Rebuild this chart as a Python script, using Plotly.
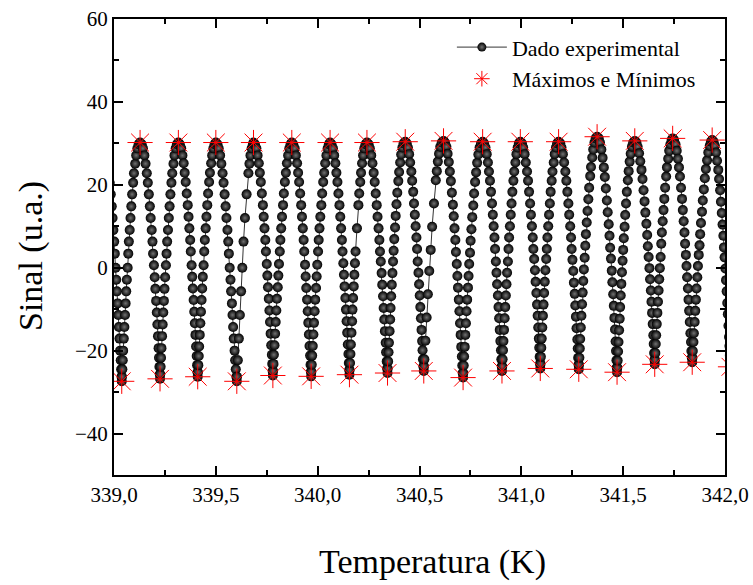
import plotly.graph_objects as go

# Experimental signal, one line per half-oscillation
temperatura = [
    338.943, 338.950, 338.957, 338.963, 338.969, 338.974, 338.979, 338.984, 338.989, 338.993, 338.997, 339.001, 339.004, 339.008, 339.011, 339.014, 339.018, 339.021, 339.024, 339.027, 339.030, 339.033, 339.035, 339.037, 339.038,
    339.039, 339.041, 339.043, 339.045, 339.048, 339.051, 339.054, 339.057, 339.060, 339.063, 339.067, 339.070, 339.073, 339.077, 339.081, 339.085, 339.089, 339.094, 339.098, 339.104, 339.109, 339.115, 339.121, 339.128,
    339.136, 339.142, 339.149, 339.155, 339.161, 339.166, 339.171, 339.176, 339.180, 339.185, 339.189, 339.192, 339.196, 339.200, 339.203, 339.207, 339.210, 339.213, 339.216, 339.219, 339.221, 339.223, 339.225, 339.226,
    339.227, 339.229, 339.231, 339.233, 339.236, 339.239, 339.242, 339.245, 339.248, 339.251, 339.255, 339.258, 339.261, 339.265, 339.269, 339.273, 339.277, 339.282, 339.286, 339.292, 339.297, 339.303, 339.309, 339.316,
    339.323, 339.330, 339.336, 339.342, 339.347, 339.352, 339.357, 339.362, 339.366, 339.370, 339.374, 339.377, 339.381, 339.384, 339.387, 339.391, 339.394, 339.397, 339.400, 339.403, 339.406, 339.408, 339.410, 339.411,
    339.412, 339.414, 339.416, 339.418, 339.421, 339.424, 339.427, 339.430, 339.433, 339.436, 339.440, 339.443, 339.446, 339.450, 339.454, 339.458, 339.462, 339.467, 339.471, 339.477, 339.482, 339.488, 339.494, 339.500,
    339.508, 339.514, 339.521, 339.527, 339.533, 339.538, 339.543, 339.548, 339.552, 339.557, 339.561, 339.564, 339.568, 339.572, 339.575, 339.579, 339.582, 339.585, 339.588, 339.592, 339.595, 339.598, 339.601, 339.603,
    339.604, 339.608, 339.613, 339.618, 339.624, 339.630, 339.636, 339.643, 339.651, 339.660, 339.665, 339.670, 339.676, 339.682, 339.685,
    339.692, 339.699, 339.705, 339.711, 339.716, 339.721, 339.726, 339.731, 339.735, 339.739, 339.743, 339.746, 339.750, 339.753, 339.756, 339.760, 339.763, 339.766, 339.769, 339.772, 339.775, 339.777, 339.779, 339.780,
    339.781, 339.783, 339.785, 339.788, 339.791, 339.794, 339.797, 339.800, 339.804, 339.807, 339.810, 339.814, 339.817, 339.821, 339.825, 339.830, 339.834, 339.839, 339.844, 339.849, 339.855, 339.861, 339.867, 339.873,
    339.880, 339.887, 339.893, 339.899, 339.904, 339.909, 339.914, 339.919, 339.923, 339.927, 339.931, 339.934, 339.938, 339.941, 339.944, 339.948, 339.951, 339.954, 339.957, 339.960, 339.963, 339.965, 339.967, 339.968,
    339.969, 339.971, 339.973, 339.976, 339.979, 339.982, 339.985, 339.988, 339.992, 339.995, 339.998, 340.002, 340.005, 340.009, 340.013, 340.018, 340.022, 340.027, 340.032, 340.037, 340.043, 340.049, 340.055, 340.061,
    340.068, 340.075, 340.081, 340.087, 340.092, 340.097, 340.102, 340.107, 340.111, 340.115, 340.119, 340.122, 340.126, 340.129, 340.132, 340.136, 340.139, 340.142, 340.145, 340.148, 340.151, 340.153, 340.155, 340.156,
    340.157, 340.159, 340.161, 340.163, 340.166, 340.169, 340.171, 340.174, 340.177, 340.180, 340.183, 340.186, 340.193, 340.200, 340.204, 340.209, 340.213, 340.218, 340.223, 340.229, 340.235, 340.242,
    340.250, 340.256, 340.263, 340.269, 340.275, 340.280, 340.285, 340.290, 340.294, 340.299, 340.303, 340.306, 340.310, 340.314, 340.317, 340.321, 340.324, 340.327, 340.330, 340.334, 340.336, 340.339, 340.341, 340.343,
    340.344, 340.346, 340.348, 340.350, 340.353, 340.356, 340.358, 340.361, 340.364, 340.367, 340.370, 340.373, 340.376, 340.380, 340.383, 340.387, 340.391, 340.396, 340.400, 340.405, 340.410, 340.416, 340.422, 340.430,
    340.437, 340.443, 340.449, 340.454, 340.460, 340.464, 340.469, 340.473, 340.477, 340.481, 340.485, 340.488, 340.491, 340.495, 340.498, 340.501, 340.504, 340.507, 340.510, 340.513, 340.515, 340.517, 340.519, 340.521,
    340.522, 340.524, 340.529, 340.535, 340.541, 340.548, 340.555, 340.562, 340.571, 340.580, 340.585, 340.590, 340.596, 340.602, 340.609, 340.618,
    340.625, 340.632, 340.638, 340.644, 340.649, 340.654, 340.659, 340.664, 340.668, 340.672, 340.676, 340.679, 340.683, 340.686, 340.689, 340.693, 340.696, 340.699, 340.702, 340.705, 340.708, 340.710, 340.712, 340.714,
    340.715, 340.717, 340.719, 340.722, 340.725, 340.728, 340.731, 340.734, 340.738, 340.741, 340.744, 340.748, 340.751, 340.755, 340.759, 340.764, 340.768, 340.773, 340.778, 340.783, 340.789, 340.795, 340.802, 340.810,
    340.817, 340.824, 340.830, 340.836, 340.841, 340.846, 340.851, 340.856, 340.860, 340.864, 340.868, 340.871, 340.875, 340.878, 340.881, 340.885, 340.888, 340.891, 340.894, 340.897, 340.900, 340.902, 340.904, 340.905,
    340.906, 340.908, 340.910, 340.912, 340.915, 340.918, 340.921, 340.924, 340.927, 340.930, 340.934, 340.937, 340.940, 340.944, 340.948, 340.952, 340.956, 340.961, 340.965, 340.971, 340.976, 340.982, 340.988, 340.995,
    341.003, 341.009, 341.016, 341.022, 341.028, 341.033, 341.038, 341.043, 341.047, 341.052, 341.056, 341.059, 341.063, 341.067, 341.070, 341.074, 341.077, 341.080, 341.083, 341.086, 341.088, 341.090, 341.092, 341.093,
    341.094, 341.096, 341.098, 341.100, 341.103, 341.106, 341.109, 341.112, 341.115, 341.118, 341.122, 341.125, 341.128, 341.132, 341.136, 341.140, 341.144, 341.149, 341.153, 341.159, 341.164, 341.170, 341.176, 341.183,
    341.191, 341.197, 341.204, 341.210, 341.216, 341.221, 341.226, 341.231, 341.235, 341.240, 341.244, 341.247, 341.251, 341.255, 341.258, 341.262, 341.265, 341.268, 341.271, 341.275, 341.277, 341.279, 341.281, 341.282,
    341.283, 341.285, 341.287, 341.289, 341.292, 341.295, 341.298, 341.301, 341.304, 341.307, 341.311, 341.314, 341.317, 341.321, 341.325, 341.329, 341.333, 341.338, 341.342, 341.348, 341.353, 341.359, 341.365, 341.372,
    341.380, 341.386, 341.393, 341.399, 341.405, 341.410, 341.415, 341.420, 341.424, 341.429, 341.433, 341.436, 341.440, 341.444, 341.447, 341.451, 341.454, 341.457, 341.460, 341.463, 341.465, 341.467, 341.469, 341.470,
    341.471, 341.473, 341.475, 341.477, 341.480, 341.483, 341.485, 341.488, 341.491, 341.494, 341.497, 341.500, 341.503, 341.507, 341.510, 341.514, 341.518, 341.523, 341.527, 341.532, 341.537, 341.543, 341.549, 341.557,
    341.565, 341.571, 341.578, 341.584, 341.590, 341.595, 341.600, 341.605, 341.609, 341.614, 341.618, 341.621, 341.625, 341.629, 341.632, 341.636, 341.639, 341.642, 341.645, 341.648, 341.650, 341.652, 341.654, 341.655,
    341.656, 341.658, 341.660, 341.662, 341.665, 341.668, 341.671, 341.674, 341.677, 341.680, 341.684, 341.687, 341.690, 341.694, 341.698, 341.702, 341.706, 341.711, 341.715, 341.721, 341.726, 341.732, 341.738, 341.743,
    341.750, 341.757, 341.763, 341.769, 341.774, 341.779, 341.784, 341.789, 341.793, 341.797, 341.801, 341.804, 341.808, 341.811, 341.814, 341.818, 341.821, 341.824, 341.827, 341.830, 341.833, 341.835, 341.837, 341.839,
    341.840, 341.842, 341.845, 341.847, 341.851, 341.854, 341.857, 341.860, 341.864, 341.867, 341.871, 341.875, 341.878, 341.882, 341.887, 341.891, 341.896, 341.901, 341.906, 341.912, 341.918, 341.925, 341.931, 341.937,
    341.944, 341.950, 341.956, 341.961, 341.967, 341.971, 341.976, 341.980, 341.984, 341.988, 341.992, 341.995, 341.998, 342.002, 342.005, 342.008, 342.011, 342.014, 342.017, 342.020, 342.022, 342.024, 342.026, 342.027,
]

sinal = [
    30.2, 29.8, 28.8, 27.1, 25.1, 22.8, 20.5, 17.7, 14.8, 12.0, 9.1, 6.3, 3.4, 0.0, -2.9, -5.7, -8.6, -11.4, -14.3, -17.1, -20.0, -22.3, -24.5, -26.3, -27.4,
    -26.3, -24.5, -22.3, -20.0, -17.1, -14.3, -11.4, -8.6, -5.7, -2.9, 0.0, 3.4, 6.3, 9.1, 12.0, 14.8, 17.7, 20.5, 22.8, 25.1, 27.1, 28.8, 29.8, 30.2,
    29.8, 28.8, 27.1, 25.1, 22.8, 20.5, 17.7, 14.8, 12.0, 9.1, 6.3, 3.4, 0.6, -2.3, -5.1, -8.0, -10.8, -13.7, -16.5, -19.4, -21.7, -23.9, -25.7, -26.8,
    -25.7, -23.9, -21.7, -19.4, -16.5, -13.7, -10.8, -8.0, -5.1, -2.3, 0.6, 3.4, 6.3, 9.1, 12.0, 14.8, 17.7, 20.5, 22.8, 25.1, 27.1, 28.8, 29.8, 30.2,
    29.8, 28.8, 27.1, 25.2, 22.9, 20.7, 17.9, 15.1, 12.3, 9.5, 6.7, 3.9, 0.6, -2.2, -5.0, -7.8, -10.6, -13.4, -16.2, -19.0, -21.3, -23.5, -25.2, -26.3,
    -25.2, -23.5, -21.3, -19.0, -16.2, -13.4, -10.6, -7.8, -5.0, -2.2, 0.6, 3.9, 6.7, 9.5, 12.3, 15.1, 17.9, 20.7, 22.9, 25.2, 27.1, 28.8, 29.8, 30.2,
    29.8, 28.8, 27.1, 25.1, 22.8, 20.5, 17.7, 14.8, 12.0, 9.1, 6.3, 3.4, 0.0, -2.9, -5.7, -8.6, -11.4, -14.3, -17.1, -20.0, -22.3, -24.5, -26.3, -27.4,
    -26.3, -22.3, -17.1, -11.4, -5.7, 0.0, 6.3, 12.0, 17.7, 22.8, 25.1, 27.1, 28.8, 29.8, 30.2,
    29.8, 28.8, 27.1, 25.2, 22.9, 20.7, 17.9, 15.1, 12.3, 9.5, 6.7, 3.9, 0.9, -1.9, -4.7, -7.5, -10.3, -13.1, -15.9, -18.7, -21.0, -23.2, -24.9, -26.0,
    -24.9, -23.2, -21.0, -18.7, -15.9, -13.1, -10.3, -7.5, -4.7, -1.9, 0.9, 3.9, 6.7, 9.5, 12.3, 15.1, 17.9, 20.7, 22.9, 25.2, 27.1, 28.8, 29.8, 30.2,
    29.8, 28.8, 27.1, 25.2, 22.9, 20.7, 17.9, 15.1, 12.3, 9.5, 6.7, 3.9, 0.7, -2.1, -4.9, -7.7, -10.5, -13.3, -16.1, -18.9, -21.2, -23.4, -25.1, -26.2,
    -25.1, -23.4, -21.2, -18.9, -16.1, -13.3, -10.5, -7.7, -4.9, -2.1, 0.7, 3.9, 6.7, 9.5, 12.3, 15.1, 17.9, 20.7, 22.9, 25.2, 27.1, 28.8, 29.8, 30.2,
    29.8, 28.8, 27.1, 25.2, 22.9, 20.7, 17.9, 15.1, 12.3, 9.5, 6.7, 3.9, 1.1, -1.7, -4.5, -7.3, -10.1, -12.9, -15.7, -18.5, -20.8, -23.0, -24.7, -25.8,
    -24.7, -23.0, -20.8, -18.5, -15.7, -12.9, -10.1, -7.3, -4.5, -1.7, 1.1, 3.9, 9.5, 15.1, 17.9, 20.7, 22.9, 25.2, 27.1, 28.8, 29.8, 30.2,
    29.8, 28.8, 27.1, 25.2, 22.9, 20.7, 17.9, 15.1, 12.3, 9.5, 6.7, 3.9, 1.5, -1.3, -4.1, -6.9, -9.7, -12.5, -15.3, -18.1, -20.4, -22.6, -24.3, -25.4,
    -24.3, -22.6, -20.4, -18.1, -15.3, -12.5, -9.7, -6.9, -4.1, -1.3, 1.5, 4.1, 6.9, 9.7, 12.5, 15.3, 18.1, 20.9, 23.1, 25.4, 27.3, 29.0, 30.0, 30.4,
    30.0, 29.0, 27.4, 25.4, 23.2, 21.0, 18.3, 15.5, 12.8, 10.0, 7.3, 4.5, 1.5, -1.2, -4.0, -6.7, -9.5, -12.2, -15.0, -17.7, -19.9, -22.1, -23.8, -24.9,
    -23.8, -22.1, -17.6, -12.0, -6.4, -0.8, 4.3, 9.9, 15.5, 21.1, 23.3, 25.6, 27.5, 29.2, 30.2, 30.6,
    30.2, 29.2, 27.5, 25.5, 23.2, 20.9, 18.1, 15.2, 12.4, 9.5, 6.7, 3.8, 0.9, -2.0, -4.8, -7.7, -10.5, -13.4, -16.2, -19.1, -21.4, -23.6, -25.4, -26.5,
    -25.4, -23.6, -21.4, -19.1, -16.2, -13.4, -10.5, -7.7, -4.8, -2.0, 0.9, 3.6, 6.5, 9.3, 12.2, 15.0, 17.9, 20.7, 23.0, 25.3, 27.3, 29.0, 30.0, 30.4,
    30.0, 29.0, 27.4, 25.4, 23.2, 21.0, 18.3, 15.5, 12.8, 10.0, 7.3, 4.5, 1.5, -1.2, -4.0, -6.7, -9.5, -12.2, -15.0, -17.7, -19.9, -22.1, -23.8, -24.9,
    -23.8, -22.1, -19.9, -17.7, -15.0, -12.2, -9.5, -6.7, -4.0, -1.2, 1.5, 4.5, 7.3, 10.0, 12.8, 15.5, 18.3, 21.0, 23.2, 25.4, 27.4, 29.0, 30.0, 30.4,
    30.0, 29.0, 27.4, 25.4, 23.2, 21.0, 18.3, 15.5, 12.8, 10.0, 7.3, 4.5, 2.1, -0.6, -3.4, -6.1, -8.9, -11.6, -14.4, -17.1, -19.3, -21.5, -23.2, -24.3,
    -23.2, -21.5, -19.3, -17.1, -14.4, -11.6, -8.9, -6.1, -3.4, -0.6, 2.1, 4.5, 7.3, 10.0, 12.8, 15.5, 18.3, 21.0, 23.2, 25.4, 27.4, 29.0, 30.0, 30.4,
    30.0, 29.0, 27.4, 25.4, 23.2, 21.0, 18.3, 15.5, 12.8, 10.0, 7.3, 4.5, 1.9, -0.8, -3.6, -6.3, -9.1, -11.8, -14.6, -17.3, -19.5, -21.7, -23.4, -24.5,
    -23.4, -21.7, -19.5, -17.2, -14.4, -11.6, -8.8, -6.0, -3.2, -0.4, 2.4, 5.3, 8.1, 10.9, 13.7, 16.5, 19.3, 22.1, 24.3, 26.6, 28.5, 30.2, 31.2, 31.6,
    31.2, 30.2, 28.5, 26.5, 24.2, 21.9, 19.1, 16.2, 13.4, 10.5, 7.7, 4.8, 2.2, -0.7, -3.5, -6.4, -9.2, -12.1, -14.9, -17.8, -20.1, -22.3, -24.1, -25.2,
    -24.1, -22.4, -20.2, -17.9, -15.1, -12.3, -9.5, -6.7, -3.9, -1.1, 1.7, 4.3, 7.1, 9.9, 12.7, 15.5, 18.3, 21.1, 23.3, 25.6, 27.5, 29.2, 30.2, 30.6,
    30.2, 29.2, 27.6, 25.7, 23.6, 21.4, 18.7, 16.0, 13.3, 10.6, 7.9, 5.2, 2.6, -0.1, -2.8, -5.5, -8.2, -10.9, -13.6, -16.3, -18.4, -20.6, -22.2, -23.3,
    -22.2, -20.6, -18.4, -16.3, -13.6, -10.9, -8.2, -5.5, -2.8, -0.1, 2.6, 5.8, 8.5, 11.2, 13.9, 16.6, 19.3, 22.0, 24.2, 26.3, 28.2, 29.8, 30.8, 31.2,
    30.8, 29.8, 28.2, 26.3, 24.2, 22.0, 19.3, 16.6, 13.9, 11.2, 8.5, 5.8, 3.1, 0.4, -2.3, -5.0, -7.7, -10.4, -13.1, -15.8, -17.9, -20.1, -21.7, -22.8,
    -21.7, -20.1, -17.9, -15.8, -13.1, -10.4, -7.7, -5.0, -2.3, 0.4, 3.1, 5.4, 8.1, 10.8, 13.5, 16.2, 18.9, 21.6, 23.8, 25.9, 27.8, 29.4, 30.4, 30.8,
    30.4, 29.4, 27.8, 25.8, 23.6, 21.4, 18.7, 15.9, 13.2, 10.4, 7.7, 4.9, 2.5, -0.2, -3.0, -5.7, -8.5, -11.2, -14.0, -16.7, -18.9, -21.1, -22.8, -23.9,
]

# Maxima and minima (red asterisks)
max_temperatura = [339.128, 339.316, 339.500, 339.685, 339.873, 340.061, 340.242, 340.430,
                   340.618, 340.810, 340.995, 341.183, 341.372, 341.557, 341.743, 341.937]
max_sinal = [30.2, 30.2, 30.2, 30.2, 30.2, 30.2, 30.2, 30.4,
             30.6, 30.4, 30.4, 30.4, 31.6, 30.6, 31.2, 30.8]
min_temperatura = [339.038, 339.226, 339.411, 339.603, 339.780, 339.968, 340.156, 340.343, 340.521,
                   340.714, 340.905, 341.093, 341.282, 341.470, 341.655, 341.839, 342.027]
min_sinal = [-27.4, -26.8, -26.3, -27.4, -26.0, -26.2, -25.8, -25.4, -24.9,
             -26.5, -24.9, -24.3, -24.5, -25.2, -23.3, -22.8, -23.9]

legenda = ["Dado experimental", "Máximos e Mínimos"]
titulo_x = "Temperatura (K)"
titulo_y = "Sinal (u.a.)"

assert len(temperatura) == len(sinal), (len(temperatura), len(sinal))

FONT = "Liberation Serif"
sphere = dict(symbol="circle", color="black",
              gradient=dict(type="radial", color="#727272"), line=dict(width=0))

fig = go.Figure()
fig.add_trace(go.Scatter(
    x=temperatura, y=sinal, mode="lines+markers", showlegend=False,
    line=dict(color="black", width=0.8), marker=dict(size=10, **sphere),
))
fig.add_trace(go.Scatter(
    x=max_temperatura + min_temperatura, y=max_sinal + min_sinal,
    mode="markers", showlegend=False,
    marker=dict(symbol="asterisk-open", size=21, color="red",
                line=dict(color="red", width=1)),
))
# legend entries (no data, only their symbols)
fig.add_trace(go.Scatter(
    x=[None], y=[None], mode="lines+markers", name=legenda[0],
    line=dict(color="black", width=0.8), marker=dict(size=9, **sphere),
))
fig.add_trace(go.Scatter(
    x=[None], y=[None], mode="markers", name=legenda[1],
    marker=dict(symbol="asterisk-open", size=13, color="red",
                line=dict(color="red", width=1)),
))

def axis_style():
    return dict(
        showline=True, linewidth=2, linecolor="black", mirror="ticks",
        ticks="inside", ticklen=9, tickwidth=1.5, tickcolor="black",
        showgrid=False, zeroline=False, automargin=False,
        ticklabeloverflow="allow",
        tickfont=dict(family=FONT, size=21, color="black"),
    )

fig.update_layout(
    width=753, height=585, autosize=False,
    margin=dict(l=114, r=28, t=19, b=110),
    paper_bgcolor="white", plot_bgcolor="white",
    font=dict(family=FONT, color="black", size=21),
    separators=", ",
    showlegend=True,
    legend=dict(x=0.553, y=0.984, xanchor="left", yanchor="top",
                bgcolor="rgba(0,0,0,0)", font=dict(family=FONT, size=22),
                tracegroupgap=0, itemwidth=50),
    xaxis=dict(range=[339, 342], tick0=339, dtick=0.5, tickformat=".1f",
               minor=dict(ticks="inside", ticklen=5, tickwidth=1.5, dtick=0.25, tick0=339, tickcolor="black"),
               **axis_style()),
    yaxis=dict(range=[-50, 60], tick0=0, dtick=20,
               minor=dict(ticks="inside", ticklen=5, tickwidth=1.5, dtick=10, tick0=0, tickcolor="black"),
               **axis_style()),
    annotations=[
        dict(text=titulo_x, xref="paper", yref="paper", x=0.522, y=-0.191,
             xanchor="center", yanchor="middle", showarrow=False,
             font=dict(family=FONT, size=34, color="black")),
        dict(text=titulo_y, xref="paper", yref="paper", x=-0.136, y=0.48,
             xanchor="center", yanchor="middle", showarrow=False, textangle=-90,
             font=dict(family=FONT, size=34, color="black")),
    ],
)

# remove the browser's default 8 px page margin so the figure fills the window exactly
fig.write_html("out.html", config={"displayModeBar": False},
               post_script="document.body.style.margin = '0px';")
